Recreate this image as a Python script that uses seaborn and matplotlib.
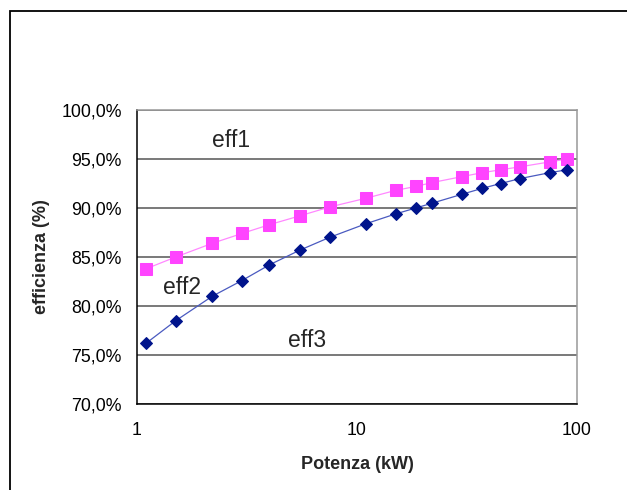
import numpy as np
import pandas as pd
import matplotlib
matplotlib.use("Agg")
import matplotlib.pyplot as plt
import seaborn as sns
from matplotlib.ticker import FuncFormatter, FixedLocator, NullLocator
from matplotlib.patches import Rectangle

# rated motor power (kW)
potenza = [1.1, 1.5, 2.2, 3, 4, 5.5, 7.5, 11, 15, 18.5, 22, 30, 37, 45, 55, 75, 90]
# efficiency limits (fraction)
eff1_lim = [0.838, 0.850, 0.864, 0.874, 0.883, 0.892, 0.901, 0.910, 0.918, 0.922,
            0.926, 0.932, 0.936, 0.939, 0.942, 0.947, 0.950]
eff2_lim = [0.762, 0.785, 0.810, 0.826, 0.842, 0.857, 0.870, 0.884, 0.894, 0.900,
            0.905, 0.914, 0.920, 0.925, 0.930, 0.936, 0.939]

band_labels = ["eff1", "eff2", "eff3"]
band_x = [2.69, 1.60, 5.91]
band_y = [0.9687, 0.8184, 0.765]

df = pd.DataFrame({"P": potenza, "eff1": eff1_lim, "eff2": eff2_lim})

sns.set_style("white")
plt.rcParams['font.family'] = ['Liberation Sans', 'DejaVu Sans']

fig = plt.figure(figsize=(6.27, 4.90), dpi=100)
ax = fig.add_axes([137 / 627, 1 - 404 / 490, 440 / 627, 294 / 490])

sns.lineplot(data=df, x="P", y="eff1", ax=ax, color="#ff88ff", lw=0.9,
             marker="s", markersize=8, markerfacecolor="#ff44ff",
             markeredgecolor="#ff44ff")
sns.lineplot(data=df, x="P", y="eff2", ax=ax, color="#4a5ac0", lw=0.9,
             marker="D", markersize=6.3, markerfacecolor="#00148c",
             markeredgecolor="#00148c")

ax.set_xscale("log")
ax.set_xlim(1, 100)
ax.set_ylim(0.70, 1.00)
ax.xaxis.set_major_locator(FixedLocator([1, 10, 100]))
ax.xaxis.set_minor_locator(NullLocator())
ax.xaxis.set_major_formatter(FuncFormatter(lambda v, p: f"{v:g}"))
ax.set_yticks(np.arange(0.70, 1.001, 0.05))
ax.yaxis.set_major_formatter(FuncFormatter(lambda v, p: f"{v*100:.1f}%".replace(".", ",")))

ax.grid(axis="y", color="#555555", lw=1.1)
ax.grid(axis="x", visible=False)
for s in ["left", "bottom"]:
    ax.spines[s].set_color("black")
    ax.spines[s].set_linewidth(1.1)
for s in ["top", "right"]:
    ax.spines[s].set_color("#999999")
    ax.spines[s].set_linewidth(1.1)

ax.tick_params(axis="both", which="major", direction="out", length=5, width=1,
               color="black", labelsize=12.8, labelcolor="black")
ax.tick_params(axis="y", pad=6)
ax.tick_params(axis="x", pad=8)

ax.set_xlabel("Potenza (kW)", fontsize=13, fontweight="bold", labelpad=12)
ax.set_ylabel("efficienza (%)", fontsize=13, fontweight="bold", labelpad=8)

for lab, x, y in zip(band_labels, band_x, band_y):
    ax.text(x, y, lab, fontsize=16.5, ha="center", va="center")

# outer chart frame (extends past the crop)
fig.patches.append(Rectangle((9.5 / 627, -0.1), 1.2, 1 - 10.5 / 490 + 0.1,
                             transform=fig.transFigure, fill=False,
                             edgecolor="black", lw=1.3))

fig.savefig("out.png", dpi=100)
